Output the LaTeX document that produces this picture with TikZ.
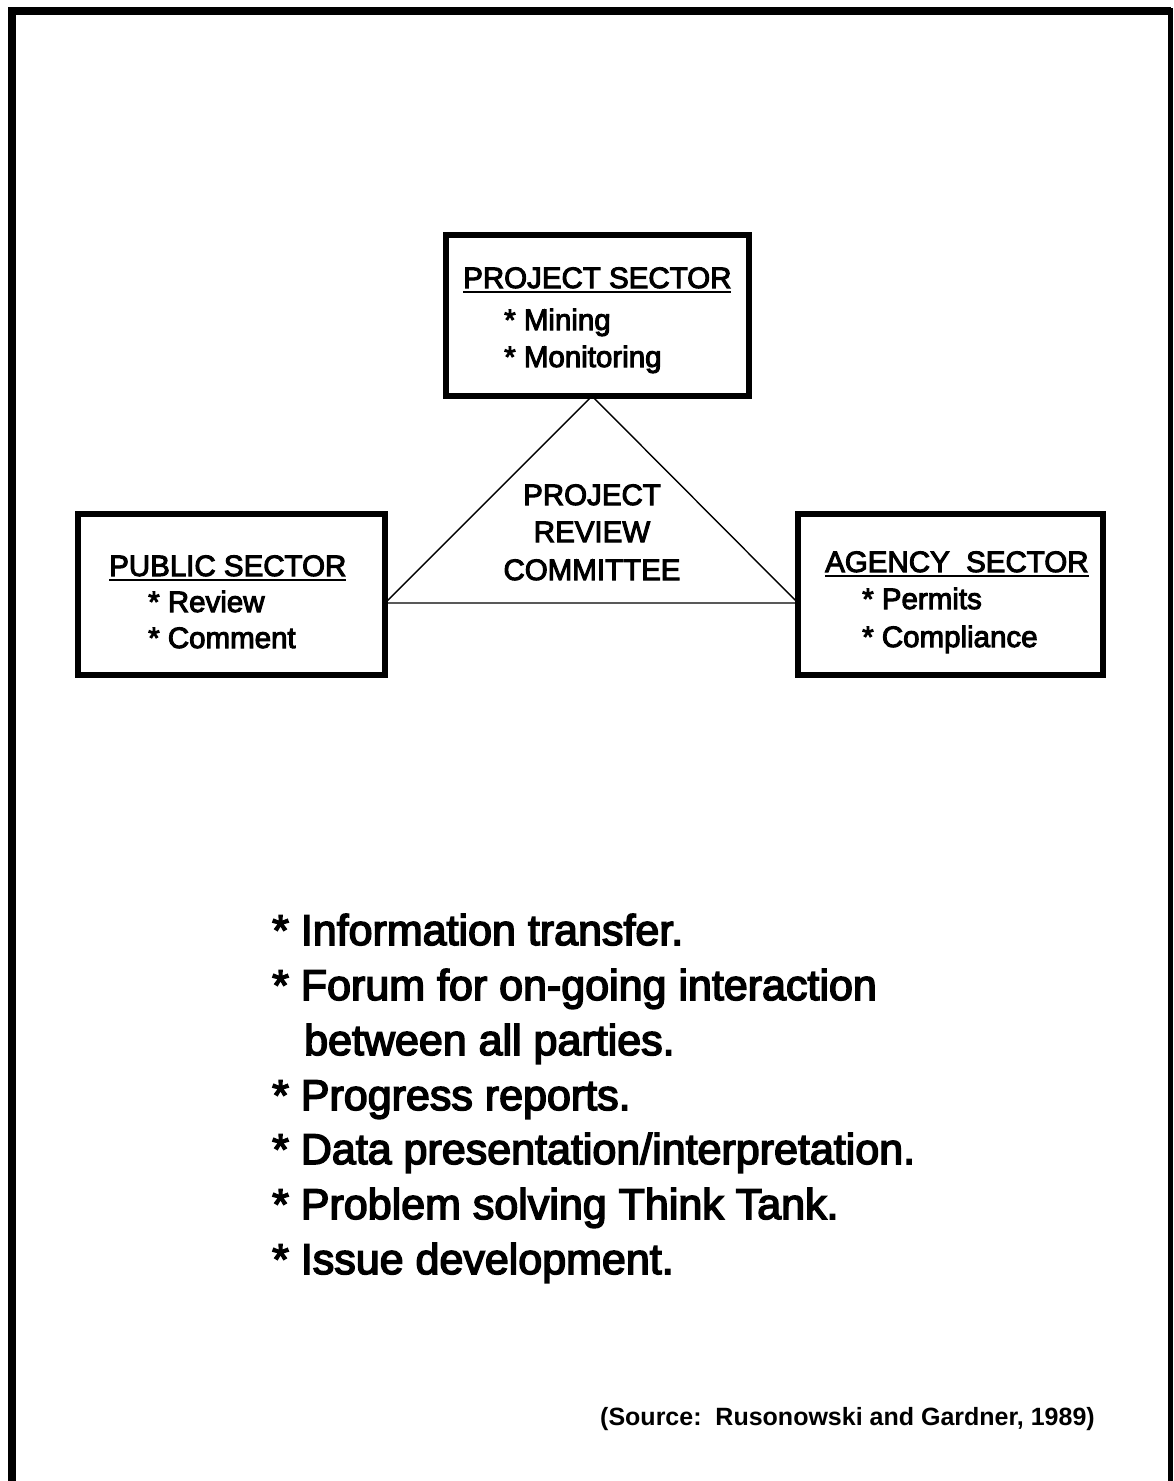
\documentclass[tikz,border=0pt]{standalone}
\usepackage{fontspec}
\setmainfont{Liberation Sans}
\newfontfamily\hvf{Liberation Sans}[AutoFakeBold=3.4]
\newfontfamily\hvg{Liberation Sans}[AutoFakeBold=3.6]
\newcommand\myul[1]{\setbox0\hbox{#1}\rlap{\rule[-4.5pt]{\wd0}{2pt}}\box0}
\begin{document}
\begin{tikzpicture}[x=1pt,y=-1pt,
  sector/.style={draw, line width=6pt, rectangle, inner sep=0pt, outer sep=0pt, line join=miter},
  boxtxt/.style={anchor=base west, inner sep=0pt, font=\hvf\bfseries\fontsize{29.5}{34}\selectfont},
  tritxt/.style={anchor=base, inner sep=0pt, font=\hvf\bfseries\fontsize{29.5}{34}\selectfont},
  listtxt/.style={anchor=base west, inner sep=0pt, font=\hvg\bfseries\fontsize{43}{50}\selectfont},
  srctxt/.style={anchor=base west, inner sep=0pt, font=\bfseries\fontsize{25}{29}\selectfont},
  frame/.style={line width=8pt, line join=miter},
  tri/.style={line width=1.4pt, line join=miter}]
\useasboundingbox (0,0) rectangle (1174,1481);
% outer frame (open at the bottom)
\coordinate (fbl) at (12,1500);
\coordinate (ftl) at (12,11);
\coordinate (ftr) at (1170.5,11);
\coordinate (fbr) at (1170.5,1500);
\draw[frame] (fbl) -- (ftl) -- (ftr);
\draw[line width=5pt] (1170.5,8) -- (fbr);
% sector boxes
\node[sector, minimum width=303pt, minimum height=161pt] (proj) at (597.5,315.5) {};
\node[sector, minimum width=307pt, minimum height=161pt] (pub) at (231.5,594.5) {};
\node[sector, minimum width=305pt, minimum height=161pt] (agy) at (950.5,594.5) {};
% triangle
\coordinate (base) at (592,603);
\coordinate (apex) at (proj.south -| base);
\draw[tri] (apex) -- (pub.east |- base) -- (agy.west |- base) -- cycle;
% box texts
\node[boxtxt] (projh) at (463,288) {\myul{PROJECT SECTOR}};
\node[boxtxt] (proja) at (504,330) {* Mining};
\node[boxtxt] (projb) at (504,367) {* Monitoring};
\node[boxtxt] (pubh) at (109,576) {\myul{PUBLIC SECTOR}};
\node[boxtxt] (puba) at (148,612) {* Review};
\node[boxtxt] (pubb) at (148,648) {* Comment};
\node[boxtxt] (agyh) at (825,572) {\myul{AGENCY\ \ SECTOR}};
\node[boxtxt] (agya) at (862,609) {* Permits};
\node[boxtxt] (agyb) at (862,647) {* Compliance};
% committee
\node[tritxt] (c1) at (592,505) {PROJECT};
\node[tritxt] (c2) at (592,542) {REVIEW};
\node[tritxt] (c3) at (592,580) {COMMITTEE};
% list
\node[listtxt] (l1) at (272,945) {* Information transfer.};
\node[listtxt] (l2) at (272,1000) {* Forum for on-going interaction};
\node[listtxt] (l2b) at (304,1055) {between all parties.};
\node[listtxt] (l3) at (272,1110) {* Progress reports.};
\node[listtxt] (l4) at (272,1164) {* Data presentation/interpretation.};
\node[listtxt] (l5) at (272,1219) {* Problem solving Think Tank.};
\node[listtxt] (l6) at (272,1274) {* Issue development.};
% source
\node[srctxt] (src) at (600,1425) {(Source:\ \ Rusonowski and Gardner, 1989)};
\end{tikzpicture}
\end{document}
